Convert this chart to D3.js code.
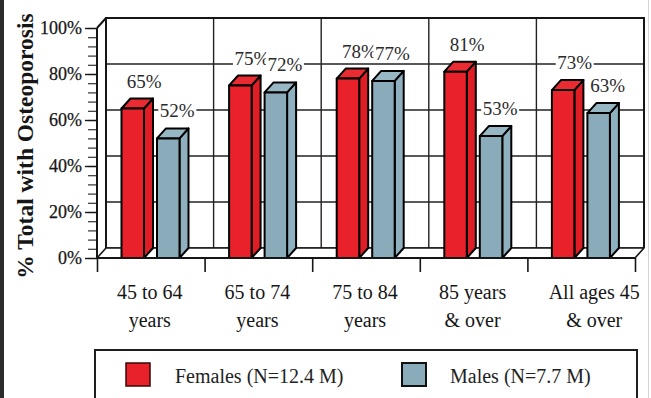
<!DOCTYPE html>
<html>
<head>
<meta charset="utf-8">
<script src="https://cdn.jsdelivr.net/npm/d3@7"></script>
<style>
  html, body { margin: 0; padding: 0; background: #fff; }
  svg { display: block; }
</style>
</head>
<body>
<svg id="chart" width="651" height="398"></svg>
<script>
// ---- data ----
const categories = ["45 to 64\nyears", "65 to 74\nyears", "75 to 84\nyears", "85 years\n& over", "All ages 45\n& over"];
const seriesNames = ["Females (N=12.4 M)", "Males (N=7.7 M)"];
const females = [65, 75, 78, 81, 73];
const males = [52, 72, 77, 53, 63];
const yTickValues = [0, 20, 40, 60, 80, 100];
const yMinorValues = d3.range(0, 101, 4);
const yTitle = "% Total with Osteoporosis";

// ---- layout ----
const svg = d3.select("#chart");
const serif = "'Liberation Serif', 'Times New Roman', serif";
const ink = "#161616";
const depth = { dx: 9, dy: 10 };
const plot = { left: 97, right: 635, top: 28, bottom: 258 };
const seriesValues = [females, males];
const fills = {
  front: ["#e8212a", "#8aabb9"],
  side:  ["#de1d25", "#8fb1bf"],
  top:   ["#ea2b32", "#97b7c4"]
};

const x = d3.scaleBand().domain(categories).range([plot.left, plot.right]);
const inner = d3.scaleBand().domain(seriesNames).range([24.5, 82.5]).paddingInner(0.366);
const y = d3.scaleLinear().domain([0, 100]).range([plot.bottom, plot.top]);
const xEdge = d3.scaleLinear().domain([0, categories.length]).range([plot.left, plot.right]);

// dark strip along the left edge of the page
svg.append("rect").attr("x", 0).attr("y", 0).attr("width", 4).attr("height", 398).attr("fill", "#2c2c2c");
svg.append("line").attr("x1", 648.5).attr("x2", 648.5).attr("y1", 0).attr("y2", 398)
  .attr("stroke", "#d4d4d4").attr("stroke-width", 1);

// ---- 3D box: back wall, left wall, floor ----
const bx0 = plot.left + depth.dx, bx1 = plot.right + depth.dx;
const by0 = plot.top - depth.dy, by1 = plot.bottom - depth.dy;

const wall = svg.append("g");
wall.append("rect").attr("x", bx0).attr("y", by0).attr("width", bx1 - bx0).attr("height", by1 - by0)
  .attr("fill", "#fff");

// horizontal gridlines on the back wall
wall.selectAll("line.hgrid").data(yTickValues).join("line")
  .attr("class", "hgrid")
  .attr("x1", bx0).attr("x2", bx1)
  .attr("y1", d => y(d) - depth.dy).attr("y2", d => y(d) - depth.dy)
  .attr("stroke", "#222").attr("stroke-width", 1.4);

// vertical gridlines at category boundaries
wall.selectAll("line.vgrid").data(d3.range(1, categories.length)).join("line")
  .attr("class", "vgrid")
  .attr("x1", d => xEdge(d) + depth.dx).attr("x2", d => xEdge(d) + depth.dx)
  .attr("y1", by0).attr("y2", by1)
  .attr("stroke", "#222").attr("stroke-width", 1.4);

// wall frame
wall.append("path")
  .attr("d", `M${bx0},${by1}V${by0}H${bx1}V${by1}`)
  .attr("fill", "none").attr("stroke", ink).attr("stroke-width", 2);

// floor
wall.append("path")
  .attr("d", `M${plot.left},${plot.bottom}L${bx0},${by1}H${bx1}L${plot.right},${plot.bottom}Z`)
  .attr("fill", "#fff").attr("stroke", ink).attr("stroke-width", 1.6).attr("stroke-linejoin", "round");

// left wall top edge
wall.append("line")
  .attr("x1", plot.left).attr("y1", plot.top).attr("x2", bx0).attr("y2", by0)
  .attr("stroke", ink).attr("stroke-width", 2);

// ---- bars ----
const bars = [];
categories.forEach((c, i) => {
  seriesNames.forEach((s, j) => {
    bars.push({ c, s, j, v: seriesValues[j][i], x: x(c) + inner(s), w: inner.bandwidth() });
  });
});

const barG = svg.append("g")
  .attr("stroke", "#000").attr("stroke-width", 2).attr("stroke-linejoin", "round");

bars.forEach(b => {
  const g = barG.append("g");
  const yt = y(b.v), y0 = y(0), dx = depth.dx, dy = depth.dy;
  g.append("path")
    .attr("d", `M${b.x + b.w},${yt}L${b.x + b.w + dx},${yt - dy}V${y0 - dy}L${b.x + b.w},${y0}Z`)
    .attr("fill", fills.side[b.j]);
  g.append("path")
    .attr("d", `M${b.x},${yt}L${b.x + dx},${yt - dy}H${b.x + b.w + dx}L${b.x + b.w},${yt}Z`)
    .attr("fill", fills.top[b.j]);
  g.append("rect")
    .attr("x", b.x).attr("y", yt).attr("width", b.w).attr("height", y0 - yt)
    .attr("fill", fills.front[b.j]);
});

// ---- value labels ----
const labelG = svg.append("g");
bars.forEach(b => {
  const g = labelG.append("g");
  const rect = g.append("rect").attr("fill", "#fff");
  const t = g.append("text")
    .attr("x", b.x + b.w / 2 + depth.dx + (b.j === 0 ? 2.5 : 0))
    .attr("y", y(b.v) - depth.dy - 11)
    .attr("text-anchor", "middle")
    .attr("font-family", serif).attr("font-size", 19)
    .attr("fill", "#2a2a2a")
    .text(b.v + "%");
  const bb = t.node().getBBox();
  rect.attr("x", bb.x - 1.5).attr("y", bb.y + 2).attr("width", bb.width + 3).attr("height", bb.height - 3);
});

// ---- y axis ----
const yMinor = svg.append("g").attr("transform", `translate(${plot.left},0)`)
  .call(d3.axisLeft(y).tickValues(yMinorValues).tickSize(9).tickFormat(""));
yMinor.select(".domain").remove();
yMinor.selectAll("line").attr("stroke", "#333").attr("stroke-width", 1.2);

const yAxis = svg.append("g").attr("transform", `translate(${plot.left},0)`)
  .call(d3.axisLeft(y).tickValues(yTickValues).tickSize(12).tickPadding(3).tickFormat(d => d + "%"));
yAxis.select(".domain").remove();
yAxis.selectAll("line").attr("stroke", ink).attr("stroke-width", 1.4);
yAxis.selectAll("text")
  .attr("font-family", serif).attr("font-size", 18).attr("fill", ink)
  .attr("stroke", ink).attr("stroke-width", 0.25);

svg.append("line")
  .attr("x1", plot.left).attr("x2", plot.left).attr("y1", plot.top).attr("y2", plot.bottom)
  .attr("stroke", ink).attr("stroke-width", 2);

// y title
const title = svg.append("text")
  .attr("transform", "translate(33,146) rotate(-90)")
  .attr("text-anchor", "middle")
  .attr("font-family", serif).attr("font-weight", "bold").attr("font-size", 23.5)
  .attr("fill", ink)
  .text(yTitle);

// ---- x axis ----
const xAxis = svg.append("g").attr("transform", `translate(0,${plot.bottom})`)
  .call(d3.axisBottom(xEdge).tickValues(d3.range(0, categories.length + 1)).tickSize(14).tickFormat(""));
xAxis.select(".domain").remove();
xAxis.selectAll("line").attr("stroke", ink).attr("stroke-width", 1.6);
svg.append("line")
  .attr("x1", plot.left).attr("x2", plot.right).attr("y1", plot.bottom).attr("y2", plot.bottom)
  .attr("stroke", ink).attr("stroke-width", 2);

const labelNudge = [-1, -1, -1, -1, 13];
categories.forEach((c, i) => {
  const t = svg.append("text")
    .attr("text-anchor", "middle")
    .attr("font-family", serif).attr("font-size", 20).attr("fill", ink);
  c.split("\n").forEach((line, k) => {
    t.append("tspan")
      .attr("x", x(c) + x.bandwidth() / 2 + labelNudge[i])
      .attr("y", 299 + k * 28)
      .text(line);
  });
});

// ---- legend ----
const legend = svg.append("g");
legend.append("rect")
  .attr("x", 95).attr("y", 350).attr("width", 542).attr("height", 70)
  .attr("fill", "#fff").attr("stroke", "#1e1e1e").attr("stroke-width", 2);

const legendItems = [
  { name: seriesNames[0], sx: 126, tx: 175, stroke: "#3a0808", sw: 1.5 },
  { name: seriesNames[1], sx: 402, tx: 450, stroke: "#111", sw: 2 }
];
legendItems.forEach((d, j) => {
  legend.append("rect")
    .attr("x", d.sx).attr("y", 363).attr("width", 24).attr("height", 23)
    .attr("fill", fills.front[j]).attr("stroke", d.stroke).attr("stroke-width", d.sw);
  legend.append("text")
    .attr("x", d.tx).attr("y", 383)
    .attr("font-family", serif).attr("font-size", 20).attr("fill", "#222")
    .text(d.name);
});
</script>
</body>
</html>
